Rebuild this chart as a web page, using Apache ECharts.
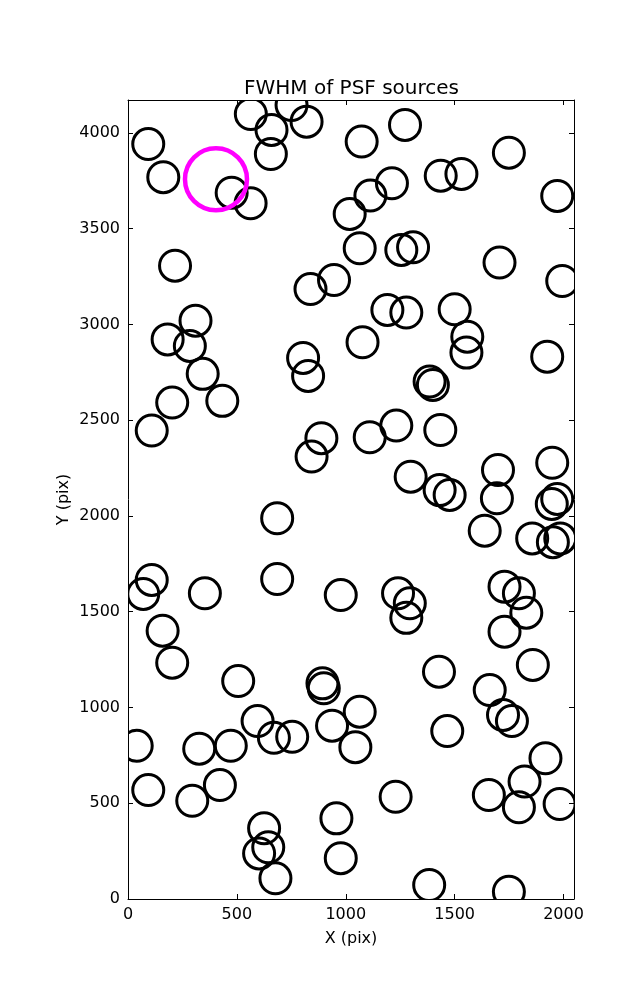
<!DOCTYPE html>
<html>
<head>
<meta charset="utf-8">
<script src="https://cdn.jsdelivr.net/npm/echarts@6/dist/echarts.min.js"></script>
<style>
html,body{margin:0;padding:0;background:#fff;}
#chart{width:637px;height:1000px;}
</style>
</head>
<body>
<div id="chart"></div>
<script>
// Source positions (pixels on detector)
const srcX = [93,162,476,563,564,659,751,820,656,1073,1272,1212,1113,1018,1436,1531,1749,1971,
  1064,1255,1309,1706,1994,216,946,838,1191,1278,1500,1558,1554,310,182,284,1077,804,1925,
  343,203,433,109,827,1385,1400,888,843,1110,1232,1434,1298,1431,1477,1699,1694,1948,1946,1971,
  1638,1856,1951,1985,685,685,109,70,353,977,1240,1294,1278,1729,1795,1829,
  159,203,506,893,899,1064,937,595,670,754,40,327,472,1044,1466,1729,1859,1428,1661,1722,1763,
  1917,1821,1657,1795,1982,1229,93,295,422,625,644,602,677,957,977,1383,1749];
const srcY = [3942,3769,3688,3633,4099,4016,4146,4059,3890,3955,4042,3737,3673,3577,3777,3786,3897,3671,
  3398,3389,3403,3323,3227,3307,3232,3185,3076,3062,3079,2936,2853,3020,2922,2888,2907,2825,2832,
  2742,2592,2601,2446,2731,2702,2684,2406,2310,2411,2472,2449,2205,2135,2110,2240,2092,2278,2063,2089,
  1923,1883,1863,1883,1988,1671,1666,1593,1596,1587,1596,1544,1468,1631,1596,1495,
  1401,1234,1138,1126,1100,978,905,929,842,847,800,785,800,793,877,1396,1222,1187,1091,961,929,
  735,613,543,479,496,534,569,513,595,369,270,238,108,421,213,73,38];
// Highlighted source
const hiX = [404];
const hiY = [3758];

const xTicks = [0, 500, 1000, 1500, 2000];
const yTicks = [0, 500, 1000, 1500, 2000, 2500, 3000, 3500, 4000];

const font = 'DejaVu Sans';
const chart = echarts.init(document.getElementById('chart'), null, {renderer: 'canvas'});

function axisBase(show, ticks) {
  return {
    type: 'value',
    axisLine: {show: true, onZero: false, lineStyle: {color: '#000', width: 1}},
    axisTick: {show: true, inside: true, length: 5, lineStyle: {color: '#000', width: 1}},
    splitLine: {show: false},
    axisLabel: {
      show: show, color: '#000', fontSize: 16, fontFamily: font, showMaxLabel: false,
      formatter: v => (ticks.indexOf(v) >= 0 ? String(v) : '')
    },
  };
}

function ringSeries(xs, ys, r, color, lw) {
  return {
    type: 'custom', xAxisIndex: 0, yAxisIndex: 0, clip: true,
    data: xs.map((x, i) => [x, ys[i]]),
    renderItem: (params, api) => {
      const p = api.coord([api.value(0), api.value(1)]);
      return {
        type: 'circle',
        shape: {cx: p[0], cy: p[1], r: r},
        style: {fill: 'none', stroke: color, lineWidth: lw}
      };
    }
  };
}

const option = {
  backgroundColor: '#fff',
  animation: false,
  title: {
    text: 'FWHM of PSF sources',
    left: 239, top: 74,
    textStyle: {fontFamily: font, fontSize: 20, fontWeight: 'normal', color: '#000'}
  },
  grid: {left: 128, top: 100, width: 446, height: 799, containLabel: false},
  xAxis: [
    Object.assign(axisBase(true, xTicks), {
      position: 'bottom', min: 0, max: 2048, interval: 500,
      name: 'X (pix)', nameLocation: 'middle', nameGap: 32, nameMoveOverlap: false,
      nameTextStyle: {fontFamily: font, fontSize: 16, color: '#000'},
    }),
    Object.assign(axisBase(false, xTicks), {position: 'top', min: 0, max: 2048, interval: 500})
  ],
  yAxis: [
    Object.assign(axisBase(true, yTicks), {
      position: 'left', min: 0, max: 4172, interval: 500,
      name: 'Y (pix)', nameLocation: 'middle', nameGap: 56, nameMoveOverlap: false,
      nameTextStyle: {fontFamily: font, fontSize: 16, color: '#000'},
    }),
    Object.assign(axisBase(false, yTicks), {position: 'right', min: 0, max: 4172, interval: 500})
  ],
  series: [
    ringSeries(srcX, srcY, 15.5, '#000', 3),
    ringSeries(hiX, hiY, 31, '#ff00ff', 4.5)
  ]
};
chart.setOption(option);
</script>
</body>
</html>
